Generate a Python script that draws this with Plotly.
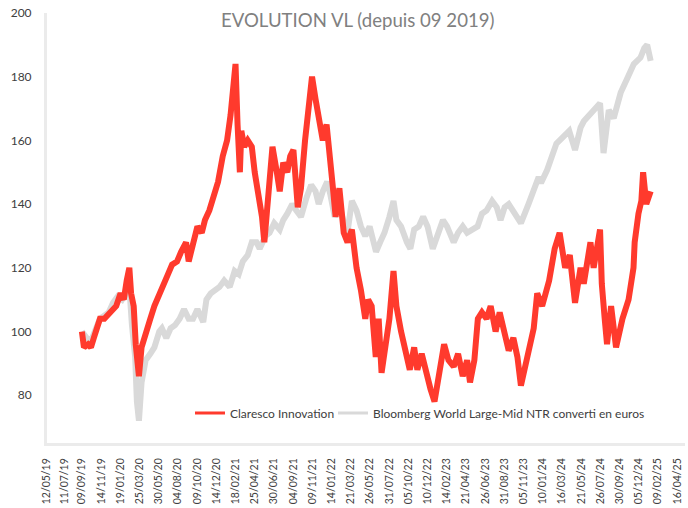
import plotly.graph_objects as go

# ---- data ----
claresco_dates = [
    "2019-09-09", "2019-09-16", "2019-09-30", "2019-10-10", "2019-10-20", "2019-11-01", "2019-11-10",
    "2019-11-25", "2019-12-05", "2019-12-20", "2020-01-05", "2020-01-20", "2020-01-31", "2020-02-10",
    "2020-02-19", "2020-02-25", "2020-03-05", "2020-03-12", "2020-03-18", "2020-03-23", "2020-04-01",
    "2020-04-15", "2020-05-01", "2020-05-15", "2020-06-01", "2020-06-15", "2020-07-01", "2020-07-15",
    "2020-08-01", "2020-08-15", "2020-09-01", "2020-09-10", "2020-09-25", "2020-10-10", "2020-10-25",
    "2020-11-05", "2020-11-20", "2020-12-05", "2020-12-20", "2021-01-05", "2021-01-20", "2021-02-01",
    "2021-02-10", "2021-02-18", "2021-02-25", "2021-03-05", "2021-03-10", "2021-03-20", "2021-04-01",
    "2021-04-15", "2021-04-25", "2021-05-10", "2021-05-20", "2021-05-28", "2021-06-10", "2021-06-25",
    "2021-07-10", "2021-07-20", "2021-08-01", "2021-08-15", "2021-08-25", "2021-09-05", "2021-09-20",
    "2021-10-01", "2021-10-15", "2021-10-25", "2021-11-08", "2021-11-20", "2021-12-01", "2021-12-15",
    "2021-12-28", "2022-01-10", "2022-01-20", "2022-01-28", "2022-02-10", "2022-02-25", "2022-03-10",
    "2022-03-25", "2022-04-10", "2022-04-25", "2022-05-10", "2022-05-20", "2022-06-01", "2022-06-15",
    "2022-06-25", "2022-07-05", "2022-07-20", "2022-08-01", "2022-08-15", "2022-08-25", "2022-09-10",
    "2022-09-25", "2022-10-10", "2022-10-25", "2022-11-05", "2022-11-20", "2022-12-05", "2022-12-20",
    "2023-01-03", "2023-01-20", "2023-02-05", "2023-02-20", "2023-03-10", "2023-03-25", "2023-04-10",
    "2023-04-25", "2023-05-05", "2023-05-20", "2023-06-01", "2023-06-15", "2023-07-01", "2023-07-15",
    "2023-08-01", "2023-08-15", "2023-09-01", "2023-09-15", "2023-10-01", "2023-10-15", "2023-10-27",
    "2023-11-18", "2023-12-10", "2023-12-22", "2024-01-08", "2024-02-01", "2024-02-20", "2024-03-08",
    "2024-03-27", "2024-04-12", "2024-04-30", "2024-05-19", "2024-05-30", "2024-06-22", "2024-07-03",
    "2024-07-25", "2024-07-31", "2024-08-10", "2024-08-18", "2024-09-01", "2024-09-18", "2024-10-10",
    "2024-10-31", "2024-11-17", "2024-11-21", "2024-12-04", "2024-12-14", "2024-12-20", "2024-12-31",
    "2025-01-15",
]
claresco_values = [
    100, 95, 96, 95, 98, 101, 104,
    104, 105, 106, 108, 112, 110, 116,
    120, 112, 108, 96, 88, 86, 95,
    100, 104, 108, 112, 114, 118, 121,
    122, 125, 128, 122, 127, 133, 131,
    135, 138, 143, 147, 155, 160, 168,
    175, 184, 165, 150, 163, 158, 160,
    158, 150, 143, 136, 128, 140, 158,
    150, 144, 153, 150, 155, 157, 139,
    145, 160, 167, 180, 173, 167, 160,
    165, 150, 144, 136, 145, 131, 128,
    132, 120, 113, 104, 110, 108, 92,
    104, 87, 97, 104, 119, 108, 100,
    93, 88, 95, 88, 93, 87, 82,
    78, 87, 96, 91, 89, 93, 86,
    91, 84, 91, 104, 106, 104, 108,
    100, 106, 99, 94, 98, 92, 83,
    92, 101, 112, 108, 116, 126, 131,
    120, 124, 109, 120, 115, 128, 120,
    132, 115, 104, 96, 108, 95, 104,
    110, 120, 128, 137, 141, 150, 140,
    144,
]

bloomberg_dates = [
    "2019-09-09", "2019-09-25", "2019-10-10", "2019-10-25", "2019-11-10", "2019-11-25", "2019-12-10",
    "2019-12-25", "2020-01-10", "2020-01-25", "2020-02-10", "2020-02-19", "2020-02-28", "2020-03-10",
    "2020-03-16", "2020-03-23", "2020-04-01", "2020-04-15", "2020-05-01", "2020-05-15", "2020-06-01",
    "2020-06-10", "2020-06-25", "2020-07-10", "2020-07-25", "2020-08-10", "2020-08-25", "2020-09-10",
    "2020-09-25", "2020-10-10", "2020-10-30", "2020-11-10", "2020-11-25", "2020-12-10", "2020-12-25",
    "2021-01-10", "2021-01-29", "2021-02-15", "2021-03-01", "2021-03-15", "2021-04-01", "2021-04-15",
    "2021-05-01", "2021-05-12", "2021-06-01", "2021-06-15", "2021-07-01", "2021-07-20", "2021-08-01",
    "2021-08-15", "2021-09-01", "2021-09-15", "2021-10-01", "2021-10-20", "2021-11-05", "2021-11-20",
    "2021-12-01", "2021-12-15", "2021-12-30", "2022-01-10", "2022-01-25", "2022-02-10", "2022-02-25",
    "2022-03-08", "2022-03-25", "2022-04-10", "2022-04-25", "2022-05-10", "2022-05-25", "2022-06-16",
    "2022-06-30", "2022-07-15", "2022-08-01", "2022-08-15", "2022-08-25", "2022-09-10", "2022-09-30",
    "2022-10-12", "2022-10-25", "2022-11-10", "2022-11-25", "2022-12-10", "2022-12-28", "2023-01-15",
    "2023-02-01", "2023-02-15", "2023-03-10", "2023-03-25", "2023-04-10", "2023-04-25", "2023-05-10",
    "2023-05-31", "2023-06-15", "2023-07-01", "2023-07-20", "2023-08-05", "2023-08-18", "2023-09-01",
    "2023-09-15", "2023-10-05", "2023-10-27", "2023-11-22", "2023-12-27", "2024-01-04", "2024-01-25",
    "2024-02-26", "2024-03-23", "2024-04-10", "2024-04-30", "2024-05-19", "2024-05-30", "2024-07-03",
    "2024-07-25", "2024-08-06", "2024-08-24", "2024-09-10", "2024-10-04", "2024-10-24", "2024-11-18",
    "2024-12-11", "2024-12-24", "2025-01-03", "2025-01-15",
]
bloomberg_values = [
    100, 98, 97, 101, 104, 105, 106,
    109, 111, 110, 113, 114, 102, 92,
    78, 72, 84, 91, 93, 95, 100,
    101, 98, 101, 102, 104, 107, 104,
    104, 107, 103, 110, 112, 113, 114,
    116, 114, 119, 118, 122, 124, 128,
    128, 126, 130, 131, 134, 132, 135,
    137, 140, 138, 136, 142, 146, 144,
    140, 144, 147, 143, 136, 140, 133,
    130, 141, 138, 133, 130, 133, 125,
    128, 131, 136, 141, 135, 133, 128,
    126, 132, 133, 136, 133, 126, 131,
    135, 133, 128, 131, 133, 131, 132,
    133, 137, 138, 141, 139, 135, 139,
    140, 137, 134, 140, 148.5, 146.6, 150.7,
    159, 161, 163, 157, 164, 166, 169.5,
    171.7, 156, 169.5, 167, 175, 179, 184,
    186, 189, 190, 185,
]

tick_dates = [
    "2019-05-12", "2019-07-11", "2019-09-09", "2019-11-14", "2020-01-19", "2020-03-25", "2020-05-30",
    "2020-08-04", "2020-10-09", "2020-12-14", "2021-02-18", "2021-04-25", "2021-06-30", "2021-09-04",
    "2021-11-09", "2022-01-14", "2022-03-21", "2022-05-26", "2022-07-31", "2022-10-05", "2022-12-10",
    "2023-02-14", "2023-04-21", "2023-06-26", "2023-08-31", "2023-11-05", "2024-01-10", "2024-03-16",
    "2024-05-21", "2024-07-26", "2024-09-30", "2024-12-05", "2025-02-09", "2025-04-16",
]
tick_labels = [
    "12/05/19", "11/07/19", "09/09/19", "14/11/19", "19/01/20", "25/03/20", "30/05/20",
    "04/08/20", "09/10/20", "14/12/20", "18/02/21", "25/04/21", "30/06/21", "04/09/21",
    "09/11/21", "14/01/22", "21/03/22", "26/05/22", "31/07/22", "05/10/22", "10/12/22",
    "14/02/23", "21/04/23", "26/06/23", "31/08/23", "05/11/23", "10/01/24", "16/03/24",
    "21/05/24", "26/07/24", "30/09/24", "05/12/24", "09/02/25", "16/04/25",
]
y_ticks = [80, 100, 120, 140, 160, 180, 200]

name_claresco = "Claresco Innovation"
name_bloomberg = "Bloomberg World Large-Mid NTR converti en euros"
title_text = "EVOLUTION VL (depuis 09 2019)"

RED = "#FF3A2D"
GRAY = "#D9D9D9"
FONT = "Lato"

fig = go.Figure()
fig.add_trace(go.Scatter(x=bloomberg_dates, y=bloomberg_values, mode="lines",
                         line=dict(color=GRAY, width=6), showlegend=False, name=name_bloomberg))
fig.add_trace(go.Scatter(x=claresco_dates, y=claresco_values, mode="lines",
                         line=dict(color=RED, width=6), showlegend=False, name=name_claresco))
# legend entries (thinner sample lines as in the reference), one small legend each
fig.add_trace(go.Scatter(x=[None], y=[None], mode="lines", line=dict(color=RED, width=3),
                         name=name_claresco, showlegend=True, legend="legend"))
fig.add_trace(go.Scatter(x=[None], y=[None], mode="lines", line=dict(color=GRAY, width=3),
                         name=name_bloomberg, showlegend=True, legend="legend2"))

legend_common = dict(orientation="h", xanchor="left", yanchor="middle", y=0.07,
                     font=dict(family=FONT, size=12, color="#404040"),
                     bgcolor="rgba(0,0,0,0)", borderwidth=0)

fig.update_layout(
    width=688, height=508,
    margin=dict(l=47, r=3, t=13, b=65),
    paper_bgcolor="white", plot_bgcolor="white",
    font=dict(family=FONT, color="#404040"),
    title=dict(text=title_text, x=0.52, xanchor="center", y=1 - 20 / 508, yanchor="middle",
               font=dict(family=FONT, size=18.6, color="#808080")),
    legend=dict(x=(190 - 47) / 638, **legend_common),
    legend2=dict(x=(333 - 47) / 638, **legend_common),
    showlegend=True,
)
fig.update_xaxes(type="date", range=["2019-05-12", "2025-05-13"], tickmode="array",
                 tickvals=tick_dates, ticktext=tick_labels, tickangle=-90,
                 tickfont=dict(family=FONT, size=10.5, color="#404040"),
                 showgrid=False, zeroline=False, showline=True, linecolor="#EBEBEB", linewidth=3,
                 ticks="", ticklabelstandoff=8, automargin=False)
fig.update_yaxes(range=[65, 200], tickmode="array", tickvals=y_ticks,
                 tickfont=dict(family=FONT, size=12, color="#404040"),
                 showgrid=False, zeroline=False, showline=True, linecolor="#EBEBEB", linewidth=3,
                 ticks="", ticklabelstandoff=10, automargin=False)

fig.write_html("out.html", config={"displayModeBar": False},
               post_script="document.body.style.margin='0';")
